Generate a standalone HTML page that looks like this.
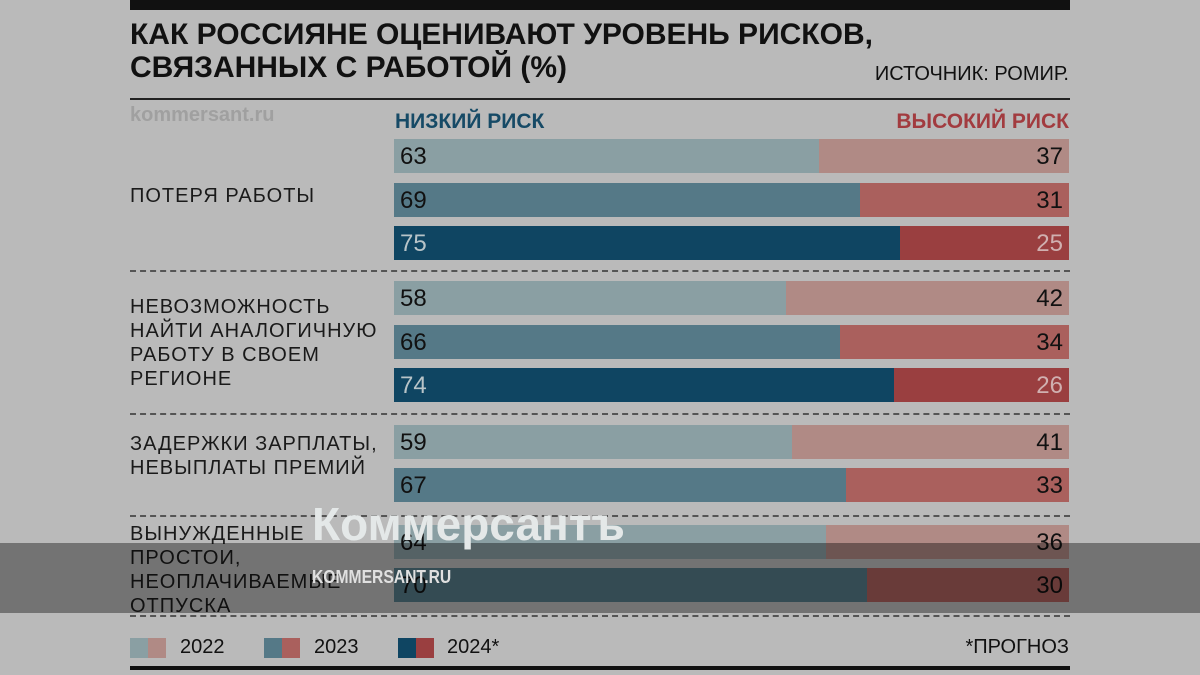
<!DOCTYPE html><html><head><meta charset="utf-8"><style>
body{margin:0;width:1200px;height:675px;background:#bababa;position:relative;overflow:hidden;font-family:"Liberation Sans",sans-serif}
.a{position:absolute}
.t{font-weight:bold;font-size:30px;color:#111;left:130px;line-height:33px}
.lab{left:130px;font-size:20px;color:#1a1a1a;line-height:24px;letter-spacing:1px}
.bar{position:absolute;left:394px;width:675px;height:34px;display:flex}
.bar div{height:100%;font-size:24px;line-height:35px;color:#111}
.l{padding-left:6px;box-sizing:border-box}
.r{text-align:right;padding-right:6px;box-sizing:border-box}
.dash{position:absolute;left:130px;width:940px;border-top:2px dashed #555}
.sw{position:absolute;width:18px;height:20px;top:638px}
.lg{position:absolute;top:636px;font-size:20px;color:#111}
</style></head><body>
<div class="a" style="left:130px;top:0;width:940px;height:10px;background:#111"></div>
<div class="a t" style="top:18px">КАК РОССИЯНЕ ОЦЕНИВАЮТ УРОВЕНЬ РИСКОВ,</div>
<div class="a t" style="top:51px">СВЯЗАННЫХ С РАБОТОЙ (%)</div>
<div class="a" style="right:131px;top:63px;font-size:20px;color:#111">ИСТОЧНИК: РОМИР.</div>
<div class="a" style="left:130px;top:98px;width:940px;height:2px;background:#222"></div>
<div class="a" style="left:130px;top:104px;font-size:20px;font-weight:bold;color:#a0a0a0">kommersant.ru</div>
<div class="a" style="left:395px;top:110px;font-size:21px;font-weight:bold;color:#164a66">НИЗКИЙ РИСК</div>
<div class="a" style="right:131px;top:110px;font-size:21px;font-weight:bold;color:#a23b3f">ВЫСОКИЙ РИСК</div>

<div class="a lab" style="top:184px">ПОТЕРЯ РАБОТЫ</div>
<div class="a lab" style="top:295px">НЕВОЗМОЖНОСТЬ<br>НАЙТИ АНАЛОГИЧНУЮ<br>РАБОТУ В СВОЕМ<br>РЕГИОНЕ</div>
<div class="a lab" style="top:432px">ЗАДЕРЖКИ ЗАРПЛАТЫ,<br>НЕВЫПЛАТЫ ПРЕМИЙ</div>
<div class="a lab" style="top:522px">ВЫНУЖДЕННЫЕ<br>ПРОСТОИ,<br>НЕОПЛАЧИВАЕМЫЕ<br>ОТПУСКА</div>

<div class="bar" style="top:139px"><div class="l" style="width:425px;background:#8a9fa3">63</div><div class="r" style="flex:1;background:#b08a85">37</div></div>
<div class="bar" style="top:183px"><div class="l" style="width:466px;background:#557987">69</div><div class="r" style="flex:1;background:#aa605d">31</div></div>
<div class="bar" style="top:226px"><div class="l" style="width:506px;background:#0f4562;color:#b8c4c8">75</div><div class="r" style="flex:1;background:#9a3f40;color:#d0b0b0">25</div></div>
<div class="dash" style="top:270px"></div>
<div class="bar" style="top:281px"><div class="l" style="width:392px;background:#8a9fa3">58</div><div class="r" style="flex:1;background:#b08a85">42</div></div>
<div class="bar" style="top:325px"><div class="l" style="width:446px;background:#557987">66</div><div class="r" style="flex:1;background:#aa605d">34</div></div>
<div class="bar" style="top:368px"><div class="l" style="width:500px;background:#0f4562;color:#b8c4c8">74</div><div class="r" style="flex:1;background:#9a3f40;color:#d0b0b0">26</div></div>
<div class="dash" style="top:413px"></div>
<div class="bar" style="top:425px"><div class="l" style="width:398px;background:#8a9fa3">59</div><div class="r" style="flex:1;background:#b08a85">41</div></div>
<div class="bar" style="top:468px"><div class="l" style="width:452px;background:#557987">67</div><div class="r" style="flex:1;background:#aa605d">33</div></div>
<div class="dash" style="top:515px"></div>
<div class="bar" style="top:525px"><div class="l" style="width:432px;background:#8a9fa3">64</div><div class="r" style="flex:1;background:#b08a85">36</div></div>
<div class="bar" style="top:568px"><div class="l" style="width:473px;background:#557987">70</div><div class="r" style="flex:1;background:#aa605d">30</div></div>
<div class="dash" style="top:615px"></div>

<div class="sw" style="left:130px;background:#8a9fa3"></div><div class="sw" style="left:148px;background:#b08a85"></div><div class="lg" style="left:180px">2022</div>
<div class="sw" style="left:264px;background:#557987"></div><div class="sw" style="left:282px;background:#aa605d"></div><div class="lg" style="left:314px">2023</div>
<div class="sw" style="left:398px;background:#0f4562"></div><div class="sw" style="left:416px;background:#9a3f40"></div><div class="lg" style="left:447px">2024*</div>
<div class="lg" style="right:131px">*ПРОГНОЗ</div>
<div class="a" style="left:130px;top:666px;width:940px;height:4px;background:#111"></div>

<div class="a" style="left:0;top:543px;width:1200px;height:70px;background:rgba(0,0,0,0.38)"></div>
<div class="a" style="left:312px;top:497px;font-size:46px;font-weight:bold;color:#e4e8e8">Коммерсантъ</div>
<div class="a" style="left:312px;top:567px;font-size:18px;font-weight:bold;color:#e0e0e0;transform:scaleX(0.87);transform-origin:left">KOMMERSANT.RU</div>
</body></html>
